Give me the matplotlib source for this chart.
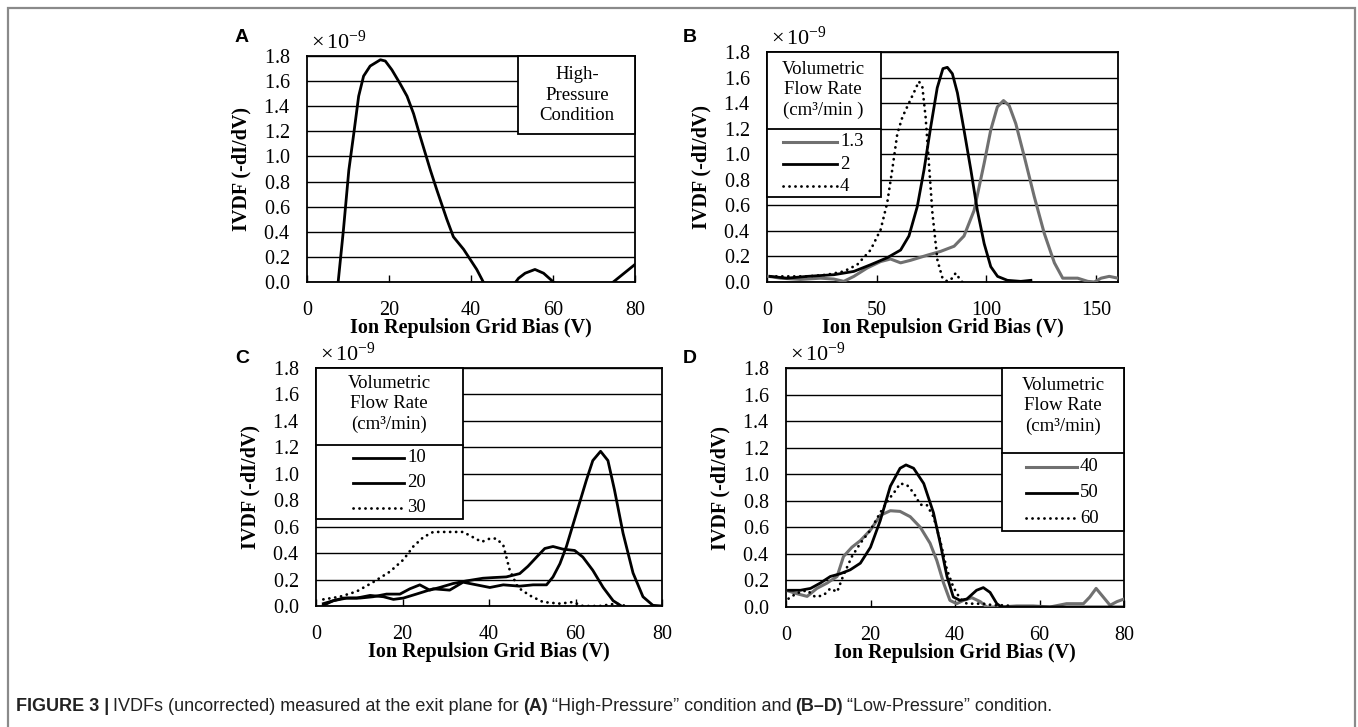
import matplotlib
matplotlib.use("Agg")
import matplotlib.pyplot as plt
from matplotlib import font_manager
from matplotlib.lines import Line2D
from matplotlib.patches import Rectangle
from matplotlib.ticker import ScalarFormatter

SCALE = 1e-9  # IVDF values below are in units of 1e-9
Y_TICKS = [0.0, 0.2, 0.4, 0.6, 0.8, 1.0, 1.2, 1.4, 1.6, 1.8]

# --- panel A: high-pressure condition
a_bias = [6.5, 7.6, 8.9, 10.2, 11.4, 12.6, 13.8, 15.4, 17.9, 19.1, 20.7, 22.7,
          24.4, 26.0, 27.6, 30.1, 31.7, 34.1, 35.7, 38.2, 39.8, 41.4, 43.0, 46.0,
          50.0, 51.6, 53.2, 55.6, 57.7, 60.1, 63.0, 70.0, 74.7, 80.0]
a_ivdf = [-0.4, 0.0, 0.42, 0.89, 1.18, 1.48, 1.64, 1.72, 1.77, 1.76, 1.69, 1.58,
          1.48, 1.34, 1.16, 0.89, 0.73, 0.50, 0.36, 0.26, 0.18, 0.10, 0.0, -0.08,
          -0.04, 0.03, 0.07, 0.10, 0.07, 0.0, -0.06, -0.10, 0.0, 0.14]

# --- panel B: 1.3, 2, 4 cm3/min
b13_bias = [0.8, 6.1, 15.2, 24.4, 30.5, 35.0, 39.6, 45.7, 51.8, 56.3, 60.9, 65.5,
            73.1, 79.2, 85.3, 89.8, 94.4, 99.0, 102.0, 105.0, 107.8, 110.4, 113.4,
            117.3, 121.8, 126.4, 131.0, 134.8, 138.6, 141.6, 146.2, 149.2, 152.3,
            156.0, 160.0]
b13_ivdf = [0.044, 0.03, 0.02, 0.03, 0.023, 0.005, 0.044, 0.11, 0.16, 0.18, 0.15,
            0.17, 0.21, 0.24, 0.28, 0.36, 0.56, 0.93, 1.19, 1.37, 1.42, 1.38, 1.24,
            0.98, 0.67, 0.38, 0.15, 0.03, 0.03, 0.03, 0.005, 0.0, 0.03, 0.044, 0.03]
b2_bias = [1.5, 9.1, 18.3, 30.5, 39.6, 47.2, 54.8, 60.9, 64.7, 68.5, 71.6, 74.6,
           77.6, 80.2, 82.2, 84.5, 86.8, 89.8, 92.9, 95.9, 99.0, 102.0, 105.1,
           109.6, 115.7, 120.3]
b2_ivdf = [0.044, 0.03, 0.044, 0.057, 0.083, 0.135, 0.19, 0.25, 0.36, 0.59, 0.88,
           1.21, 1.52, 1.67, 1.68, 1.63, 1.48, 1.19, 0.88, 0.56, 0.30, 0.12, 0.044,
           0.013, 0.005, 0.013]
b4_bias = [1.5, 9.1, 18.3, 27.4, 35.0, 41.1, 47.2, 51.8, 54.8, 57.1, 59.4, 61.7,
           64.7, 67.7, 69.2, 70.8, 72.3, 73.8, 75.4, 77.7, 80.0, 82.2, 84.5, 86.0,
           87.6, 89.0]
b4_ivdf = [0.044, 0.044, 0.044, 0.057, 0.083, 0.135, 0.25, 0.41, 0.62, 0.88, 1.16,
           1.29, 1.40, 1.51, 1.57, 1.53, 1.29, 0.93, 0.54, 0.17, 0.03, 0.005, 0.03,
           0.07, 0.03, 0.0]

# --- panel C: 10, 20, 30 cm3/min
c10_bias = [1.7, 4.0, 6.3, 9.4, 12.5, 15.6, 17.9, 20.2, 23.2, 27.1, 30.9, 34.0,
            37.1, 40.2, 43.3, 47.1, 50.2, 53.3, 54.8, 56.4, 57.9, 60.2, 62.5, 64.0,
            65.8, 67.5, 69.0, 71.0, 73.3, 75.6, 77.9, 80.0]
c10_ivdf = [0.005, 0.04, 0.06, 0.06, 0.08, 0.07, 0.05, 0.06, 0.09, 0.13, 0.12, 0.18,
            0.16, 0.14, 0.16, 0.15, 0.16, 0.16, 0.22, 0.32, 0.45, 0.70, 0.95, 1.10,
            1.17, 1.10, 0.88, 0.55, 0.25, 0.07, 0.005, 0.0]
c20_bias = [1.7, 4.0, 7.1, 10.2, 13.2, 16.3, 19.4, 21.7, 24.0, 26.3, 28.6, 31.7,
            34.8, 38.6, 41.0, 44.0, 47.1, 49.0, 51.0, 52.9, 54.8, 57.1, 59.8, 61.7,
            64.0, 66.4, 68.7, 70.6]
c20_ivdf = [0.018, 0.04, 0.06, 0.06, 0.07, 0.09, 0.09, 0.13, 0.16, 0.12, 0.14, 0.17,
            0.19, 0.21, 0.215, 0.22, 0.245, 0.30, 0.37, 0.435, 0.45, 0.43, 0.42, 0.37,
            0.27, 0.14, 0.04, 0.0]
c30_bias = [1.7, 5.5, 9.4, 13.2, 17.1, 20.2, 22.5, 24.8, 27.1, 30.2, 34.0, 36.3,
            38.3, 40.2, 41.7, 43.3, 44.8, 46.7, 49.4, 52.5, 56.4, 59.4, 61.7, 65.6,
            69.4, 71.7]
c30_ivdf = [0.05, 0.07, 0.11, 0.18, 0.26, 0.35, 0.45, 0.52, 0.56, 0.56, 0.56, 0.52,
            0.485, 0.51, 0.51, 0.46, 0.27, 0.14, 0.08, 0.03, 0.018, 0.03, 0.0, 0.0,
            0.018, 0.0]

# --- panel D: 40, 50, 60 cm3/min
d40_bias = [0.6, 2.6, 5.0, 7.3, 9.7, 12.1, 13.6, 15.6, 17.6, 20.0, 22.3, 24.7,
            27.0, 29.4, 31.8, 34.1, 35.7, 37.3, 38.8, 40.4, 42.0, 44.0, 46.0, 47.5,
            50.7, 54.6, 58.5, 62.5, 66.4, 70.4, 71.9, 73.4, 74.7, 76.7, 78.3, 80.0]
d40_ivdf = [0.12, 0.10, 0.08, 0.14, 0.18, 0.23, 0.38, 0.45, 0.50, 0.58, 0.69, 0.725,
            0.72, 0.68, 0.60, 0.48, 0.35, 0.18, 0.05, 0.025, 0.05, 0.07, 0.04, 0.0,
            0.0, 0.008, 0.008, 0.0, 0.025, 0.025, 0.075, 0.14, 0.09, 0.013, 0.04, 0.06]
d50_bias = [0.6, 3.4, 5.8, 8.1, 10.5, 12.8, 15.2, 17.6, 20.0, 22.3, 24.7, 27.0,
            28.4, 30.2, 32.6, 34.9, 36.5, 38.1, 39.6, 41.2, 42.8, 45.1, 46.7, 48.3,
            49.9, 51.0, 80.0]
d50_ivdf = [0.126, 0.126, 0.14, 0.18, 0.23, 0.25, 0.28, 0.33, 0.45, 0.65, 0.91, 1.045,
            1.07, 1.045, 0.93, 0.71, 0.48, 0.23, 0.075, 0.05, 0.06, 0.126, 0.146, 0.11,
            0.025, 0.0, 0.0]
d60_bias = [0.6, 2.6, 5.0, 6.9, 8.9, 10.5, 12.1, 13.6, 15.6, 17.6, 20.0, 22.3, 24.3,
            26.0, 27.0, 28.6, 30.2, 31.8, 33.3, 34.9, 36.5, 38.1, 39.6, 41.2, 42.8,
            44.4, 46.7, 49.1, 52.2, 53.8]
d60_ivdf = [0.063, 0.105, 0.126, 0.076, 0.088, 0.14, 0.113, 0.24, 0.38, 0.48, 0.58,
            0.71, 0.81, 0.88, 0.93, 0.92, 0.86, 0.77, 0.77, 0.68, 0.50, 0.28, 0.15,
            0.063, 0.025, 0.025, 0.025, 0.013, 0.013, 0.0]

GRAY = "#707070"
SOLID = dict(color="black", lw=2.0, ls="-")
GREY_LINE = dict(color=GRAY, lw=2.2, ls="-")
DOTS = dict(color="black", lw=2.0, ls=(0, (0.05, 2.1)), dash_capstyle="round")

plt.rcParams["font.family"] = ["Liberation Serif", "DejaVu Serif"]
plt.rcParams["mathtext.fontset"] = "custom"
plt.rcParams["mathtext.rm"] = "Liberation Serif"
plt.rcParams["mathtext.it"] = "Liberation Serif:italic"

W, H = 1358, 727
fig = plt.figure(figsize=(W / 100, H / 100), dpi=100)


def px_axes(x0, y0, x1, y1):
    """axes from pixel box (top-left origin)"""
    return fig.add_axes([x0 / W, 1 - y1 / H, (x1 - x0) / W, (y1 - y0) / H])


def style(ax, xmax, xstep):
    ax.set_xlim(0, xmax)
    ax.set_ylim(0, 1.8 * SCALE)
    ax.set_xticks(list(range(0, xmax + 1, xstep)))
    ax.set_yticks([v * SCALE for v in Y_TICKS])
    fmt = ScalarFormatter(useMathText=True)
    fmt.set_powerlimits((0, 0))
    ax.yaxis.set_major_formatter(fmt)
    ax.yaxis.get_offset_text().set_visible(False)
    h = ax.get_position().height * H
    ax.text(0.012, 1 + 14 / h, r"$\times\,10^{-9}$", transform=ax.transAxes,
            fontsize=16, ha="left", va="center")
    ax.grid(axis="y", color="black", lw=1.0)
    ax.set_axisbelow(True)
    ax.tick_params(axis="x", direction="in", length=5, width=1, pad=14, labelsize=14.5)
    ax.tick_params(axis="y", length=0, pad=12, labelsize=14.5)
    for s in ax.spines.values():
        s.set_linewidth(1.3)
    ax.set_xlabel("Ion Repulsion Grid Bias (V)", fontsize=14.5, fontweight="bold", labelpad=-2)
    ax.set_ylabel("IVDF (-dI/dV)", fontsize=14.5, fontweight="bold", labelpad=9)


def key(ax, box, divider, title, title_xy, entries, line_x, text_x, ys):
    x0, y0, x1, y1 = box
    ax.add_patch(Rectangle((x0, y0), x1 - x0, y1 - y0, transform=ax.transAxes,
                           fc="white", ec="black", lw=1.3, zorder=5, clip_on=False))
    if divider is not None:
        ax.add_line(Line2D([x0, x1], [divider, divider], transform=ax.transAxes,
                           color="black", lw=1.3, zorder=6, clip_on=False))
    ax.text(title_xy[0], title_xy[1], title, transform=ax.transAxes, ha="center",
            va="center", fontsize=13.5, linespacing=1.25, zorder=7)
    for (label, kw), y in zip(entries, ys):
        ax.add_line(Line2D(line_x, [y, y], transform=ax.transAxes, zorder=7, **kw))
        ax.text(text_x, y, label, transform=ax.transAxes, va="center",
                fontsize=13.5, zorder=7)


def curve(ax, xs, ys, kw):
    ax.plot(xs, [v * SCALE for v in ys], zorder=3, **kw)


# A
axA = px_axes(307, 56, 635, 282)
curve(axA, a_bias, a_ivdf, SOLID)
style(axA, 80, 20)
key(axA, (0.643, 0.655, 1.0, 1.0), None, "High-\nPressure\nCondition", (0.823, 0.827),
    [], [0, 0], 0, [])

# B
axB = px_axes(767, 52, 1118, 282)
curve(axB, b13_bias, b13_ivdf, GREY_LINE)
curve(axB, b2_bias, b2_ivdf, SOLID)
curve(axB, b4_bias, b4_ivdf, DOTS)
style(axB, 160, 50)
axB.set_xticks([0, 50, 100, 150])
key(axB, (0.0, 0.37, 0.325, 1.0), 0.665, "Volumetric\nFlow Rate\n(cm\u00b3/min )",
    (0.16, 0.835), [("1.3", GREY_LINE), ("2", SOLID), ("4", DOTS)],
    [0.046, 0.20], 0.208, [0.609, 0.513, 0.417])

# C
axC = px_axes(316, 368, 662, 606)
curve(axC, c10_bias, c10_ivdf, SOLID)
curve(axC, c20_bias, c20_ivdf, SOLID)
curve(axC, c30_bias, c30_ivdf, DOTS)
style(axC, 80, 20)
key(axC, (0.0, 0.366, 0.425, 1.0), 0.676, "Volumetric\nFlow Rate\n(cm\u00b3/min)",
    (0.211, 0.849), [("10", SOLID), ("20", SOLID), ("30", DOTS)],
    [0.107, 0.254], 0.263, [0.622, 0.517, 0.412])

# D
axD = px_axes(786, 368, 1124, 607)
curve(axD, d40_bias, d40_ivdf, GREY_LINE)
curve(axD, d50_bias, d50_ivdf, SOLID)
curve(axD, d60_bias, d60_ivdf, DOTS)
style(axD, 80, 20)
key(axD, (0.639, 0.318, 1.0, 1.0), 0.644, "Volumetric\nFlow Rate\n(cm\u00b3/min)",
    (0.82, 0.841), [("40", GREY_LINE), ("50", SOLID), ("60", DOTS)],
    [0.71, 0.861], 0.87, [0.586, 0.477, 0.372])

# panel letters
for letter, (lx, ly) in zip("ABCD", [(235, 38), (683, 38), (235, 359), (683, 359)]):
    fig.text(lx / W, 1 - ly / H, letter, family="Liberation Sans", fontweight="bold",
             fontsize=14, va="center", ha="left")

# outer frame, open at the bottom
fig.add_artist(Rectangle((8 / W, -0.05), (1355 - 8) / W, 1 - 8 / H + 0.05,
                         transform=fig.transFigure, fill=False, ec="#8a8a8a", lw=1.6))

# caption
names = {f.name for f in font_manager.fontManager.ttflist}
cap_font = "Liberation Sans Narrow" if "Liberation Sans Narrow" in names else "Liberation Sans"
parts = [("FIGURE 3 |", "bold"), ("IVDFs (uncorrected) measured at the exit plane for", "normal"),
         ("(A)", "bold"), ("\u201cHigh-Pressure\u201d condition and", "normal"),
         ("(B\u2013D)", "bold"), ("\u201cLow-Pressure\u201d condition.", "normal")]
renderer = fig.canvas.get_renderer()
cx = 16 / W
for s, wgt in parts:
    t = fig.text(cx, 1 - 711 / H, s, family=cap_font, fontweight=wgt, fontsize=13,
                 color="#222222", va="baseline", ha="left")
    bb = t.get_window_extent(renderer)
    cx += (bb.width + 4) / W

fig.savefig("out.png", dpi=100)
